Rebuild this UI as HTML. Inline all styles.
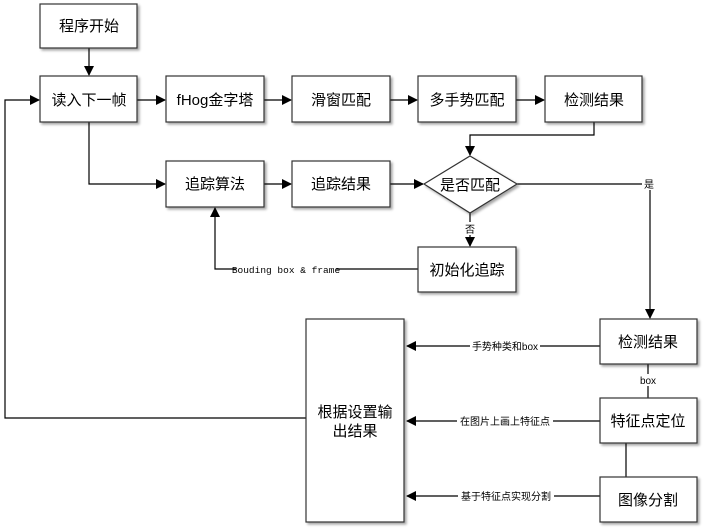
<!DOCTYPE html>
<html><head><meta charset="utf-8"><style>body{margin:0;background:#fff}svg{display:block}
text{font-family:"Liberation Sans","Noto Sans CJK SC",sans-serif}</style></head><body>
<svg width="708" height="532" viewBox="0 0 708 532" xmlns="http://www.w3.org/2000/svg">
<defs>
<marker id="a" markerWidth="10" markerHeight="10" refX="9" refY="5" orient="auto" markerUnits="userSpaceOnUse"><path d="M0,0 L10,5 L0,10 z" fill="#000"/></marker>
<filter id="s" x="-10%" y="-10%" width="130%" height="130%"><feDropShadow dx="2" dy="2" stdDeviation="1.2" flood-color="#000" flood-opacity="0.35"/></filter>
</defs>
<g stroke="#000" stroke-width="1.2" fill="none">
<path d="M89,48 V75" marker-end="url(#a)"/>
<path d="M137,100 H165" marker-end="url(#a)"/>
<path d="M264,100 H291" marker-end="url(#a)"/>
<path d="M390,100 H417" marker-end="url(#a)"/>
<path d="M516,100 H544" marker-end="url(#a)"/>
<path d="M306,418 H5 V100 H39" marker-end="url(#a)"/>
<path d="M89,122 V184 H165" marker-end="url(#a)"/>
<path d="M264,184 H291" marker-end="url(#a)"/>
<path d="M390,184 H423" marker-end="url(#a)"/>
<path d="M594,122 V135 H470 V155" marker-end="url(#a)"/>
<path d="M517,184 H650 V318" marker-end="url(#a)"/>
<path d="M470,213 V246" marker-end="url(#a)"/>
<path d="M418,269 H215 V208" marker-end="url(#a)"/>
<path d="M600,346 H407" marker-end="url(#a)"/>
<path d="M600,421 H407" marker-end="url(#a)"/>
<path d="M600,496 H407" marker-end="url(#a)"/>
<path d="M648,364 V398 M626,443 V477"/>
</g>
<g fill="#fff" stroke="#333" stroke-width="1.2" filter="url(#s)">
<rect x="40" y="4" width="97" height="44"/>
<rect x="40" y="76" width="97" height="46"/>
<rect x="166" y="76" width="98" height="46"/>
<rect x="292" y="76" width="98" height="46"/>
<rect x="418" y="76" width="98" height="46"/>
<rect x="545" y="76" width="97" height="46"/>
<rect x="166" y="161" width="98" height="46"/>
<rect x="292" y="161" width="98" height="46"/>
<path d="M470,156 L517,184 L470,213 L424,184 Z"/>
<rect x="418" y="247" width="98" height="45"/>
<rect x="600" y="319" width="97" height="45"/>
<rect x="600" y="398" width="97" height="45"/>
<rect x="600" y="477" width="97" height="45"/>
<rect x="306" y="319" width="98" height="203"/>
</g>
<g font-size="15" text-anchor="middle" fill="#000">
<text x="89" y="31">程序开始</text>
<text x="89" y="105">读入下一帧</text>
<text x="215" y="105">fHog金字塔</text>
<text x="341" y="105">滑窗匹配</text>
<text x="467" y="105">多手势匹配</text>
<text x="594" y="105">检测结果</text>
<text x="215" y="189">追踪算法</text>
<text x="341" y="189">追踪结果</text>
<text x="470" y="190">是否匹配</text>
<text x="467" y="275">初始化追踪</text>
<text x="648" y="347">检测结果</text>
<text x="648" y="426">特征点定位</text>
<text x="648" y="505">图像分割</text>
<text x="355" y="417">根据设置输</text>
<text x="355" y="436">出结果</text>
</g>
<g font-size="10" text-anchor="middle" fill="#000">
<rect x="642" y="177" width="14" height="13" fill="#fff"/><text x="649" y="188">是</text>
<rect x="463" y="222" width="14" height="13" fill="#fff"/><text x="470" y="233">否</text>
<rect x="236" y="263" width="100" height="12" fill="#fff"/><text x="286" y="273" style="font-family:'Liberation Mono',monospace;font-size:9.5px">Bouding box &amp; frame</text>
<rect x="470" y="340" width="70" height="12" fill="#fff"/><text x="505" y="350">手势种类和box</text>
<rect x="636" y="374" width="24" height="12" fill="#fff"/><text x="648" y="384">box</text>
<rect x="457" y="415" width="96" height="12" fill="#fff"/><text x="505" y="425">在图片上画上特征点</text>
<rect x="458" y="490" width="96" height="12" fill="#fff"/><text x="506" y="500">基于特征点实现分割</text>
</g>
</svg>
</body></html>
